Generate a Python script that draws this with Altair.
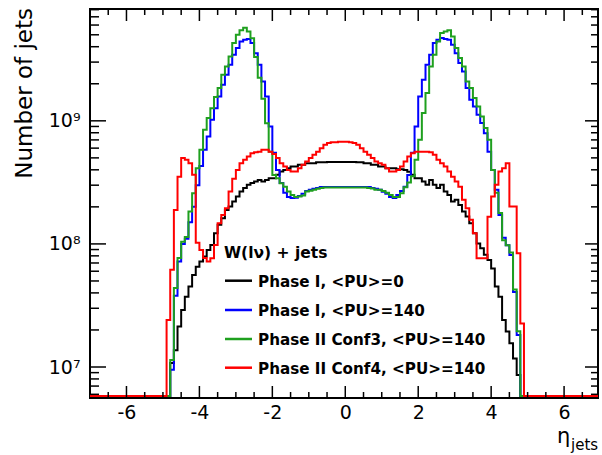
import altair as alt
import pandas as pd

# Jet pseudorapidity spectra for W(lnu)+jets, 0.1-wide bins from eta = -5.0 to 5.0.
# Counts are in millions of jets; 0 marks an empty bin.
BIN_LO = -5.0
BIN_W = 0.1

phase1_pu0 = [
    0, 0, 10.8, 13.7, 21.3, 29.0, 37.3, 45.0, 56.0, 65.3,
    71.8, 78.9, 89.3, 98.2, 122, 143, 162, 189, 201, 221,
    243, 266, 284, 302, 312, 321, 331, 321, 331, 342,
    342, 364, 387, 398, 412, 425, 425, 439, 439, 453,
    453, 453, 461, 461, 461, 462, 462, 462, 462, 462,
    462, 462, 462, 461, 461, 453, 453, 439, 439, 425,
    425, 412, 412, 412, 405, 405, 398, 385, 364, 342,
    342, 321, 302, 331, 302, 284, 302, 266, 250, 221,
    228, 207, 183, 167, 147, 122, 101, 92.2, 81.5, 74.1,
    63.1, 45.0, 37.3, 24.1, 19.4, 15.6, 11.7, 8.6, 0, 0,
]

phase1_pu140 = [
    0, 0, 9.5, 38, 72, 100, 110, 150, 200, 300,
    430, 581, 745, 1019, 1268, 1578, 1963, 2366, 2851, 3443,
    3899, 4416, 4560, 4624, 4285, 3548, 2851, 2089, 1578, 899,
    550, 398, 313, 260, 241, 236, 237, 245, 255, 269,
    275, 280, 285, 290, 290, 290, 290, 290, 290, 290,
    290, 290, 290, 290, 290, 290, 290, 285, 280, 275,
    265, 255, 241, 236, 250, 269, 292, 363, 550, 899,
    1578, 2153, 2851, 3443, 4285, 4560, 4699, 4620, 4560, 4150,
    3548, 2944, 2512, 1845, 1483, 1306, 1119, 958, 794, 562,
    398, 275, 172, 112, 97.7, 81.3, 40.7, 18.2, 0, 0,
]

phase2_conf3 = [
    0, 0, 11.4, 43.9, 76.9, 104, 114, 183, 258, 412,
    581, 845, 1052, 1268, 1560, 1845, 2366, 2761, 3334, 4285,
    5000, 5433, 5702, 5321, 4677, 3300, 2239, 1514, 955, 562,
    363, 342, 311, 292, 266, 250, 240, 243, 247, 266,
    270, 275, 280, 284, 287, 287, 287, 287, 287, 287,
    287, 287, 287, 287, 287, 287, 284, 282, 275, 275,
    269, 260, 250, 240, 240, 258, 289, 316, 355, 482,
    702, 1156, 1679, 2761, 3443, 4416, 5164, 5321, 5445, 4842,
    3899, 3236, 2761, 2089, 1845, 1531, 1306, 1084, 873, 702,
    398, 260, 178, 107, 97.7, 85.1, 42.7, 19.5, 0, 0,
]

phase2_conf4 = [
    0, 24.1, 61.7, 189, 352, 498, 482, 453, 364, 102,
    89.3, 76.9, 71.8, 76.6, 98.2, 147, 172, 195, 266, 339,
    398, 453, 482, 513, 546, 555, 562, 581, 581, 562,
    537, 498, 453, 425, 398, 387, 387, 412, 439, 467,
    498, 530, 562, 600, 638, 659, 671, 671, 676, 676,
    676, 671, 659, 638, 600, 562, 530, 498, 467, 452,
    439, 412, 387, 387, 398, 425, 467, 513, 546, 562,
    562, 562, 562, 555, 530, 482, 453, 425, 387, 352,
    321, 292, 228, 195, 157, 122, 76.6, 76.6, 76.6, 166,
    243, 302, 387, 412, 453, 201, 201, 84, 22.6, 0,
]

series_names = [
    "Phase I, <PU>=0",
    "Phase I, <PU>=140",
    "Phase II Conf3, <PU>=140",
    "Phase II Conf4, <PU>=140",
]
series_counts = [phase1_pu0, phase1_pu140, phase2_conf3, phase2_conf4]
series_colors = ["#000000", "#0000ff", "#1fa01f", "#ff0000"]

process_label = "W(l\u03bd) + jets"

# axis ranges and tick positions
ETA_MIN, ETA_MAX = -7.0, 6.93
JETS_MIN, JETS_MAX = 5.6e6, 8.1e9
JETS_FLOOR = 5.8e6  # empty bins are drawn just above the lower frame edge
x_major = [-6, -4, -2, 0, 2, 4, 6]
x_minor = [-6.5, -5.5, -5, -4.5, -3.5, -3, -2.5, -1.5, -1, -0.5,
           0.5, 1, 1.5, 2.5, 3, 3.5, 4.5, 5, 5.5, 6.5]
y_major = [1e7, 1e8, 1e9]
y_minor = [6e6, 7e6, 8e6, 9e6,
           2e7, 3e7, 4e7, 5e7, 6e7, 7e7, 8e7, 9e7,
           2e8, 3e8, 4e8, 5e8, 6e8, 7e8, 8e8, 9e8,
           2e9, 3e9, 4e9, 5e9, 6e9, 7e9, 8e9]

PLOT_W, PLOT_H = 508, 389
FONT = "DejaVu Sans"

# step-histogram vertices: each bin starts at its left edge; empty bins sit on the floor
rows = []
for name, counts in zip(series_names, series_counts):
    pts = [(ETA_MIN, 0.0)]
    pts += [(round(BIN_LO + i * BIN_W, 2), c) for i, c in enumerate(counts)]
    pts += [(round(BIN_LO + len(counts) * BIN_W, 2), 0.0), (7.0, 0.0)]
    for eta, c in pts:
        rows.append({"series": name, "eta": eta, "jets": max(c * 1e6, JETS_FLOOR)})
hist = pd.DataFrame(rows)

x_scale = alt.Scale(domain=[ETA_MIN, ETA_MAX], nice=False, zero=False)
y_scale = alt.Scale(type="log", domain=[JETS_MIN, JETS_MAX], nice=False)

x_axis = alt.Axis(
    values=x_major, ticks=False, domain=False, grid=False, title=None,
    labelExpr="datum.value < 0 ? '-' + format(-datum.value, 'd') : format(datum.value, 'd')",
    labelFont=FONT, labelFontSize=19, labelColor="black", labelPadding=5,
    labelFlush=False, labelOverlap=False,
)
y_axis = alt.Axis(
    values=y_major, ticks=False, domain=False, grid=False, title=None,
    labelExpr="datum.value >= 9e8 ? '10\u2079' : datum.value >= 9e7 ? '10\u2078' : '10\u2077'",
    labelFont=FONT, labelFontSize=19, labelColor="black", labelPadding=10,
    labelFlush=False, labelOverlap=False,
)

X = alt.X("eta:Q", scale=x_scale, axis=x_axis)
Y = alt.Y("jets:Q", scale=y_scale, axis=y_axis)

layers = []
for name, color in zip(series_names, series_colors):
    layers.append(
        alt.Chart(hist)
        .transform_filter(alt.datum.series == name)
        .mark_line(interpolate="step-after", color=color, strokeWidth=2, clip=True)
        .encode(x=X, y=Y)
    )


def x_ticks(values, length):
    d = pd.DataFrame({"eta": values})
    base = alt.Chart(d).mark_rule(color="black", strokeWidth=1.5)
    return [
        base.encode(x=X, y=alt.value(PLOT_H), y2=alt.value(PLOT_H - length)),
        base.encode(x=X, y=alt.value(0), y2=alt.value(length)),
    ]


def y_ticks(values, left_len, right_len):
    d = pd.DataFrame({"jets": values})
    base = alt.Chart(d).mark_rule(color="black", strokeWidth=1.5)
    return [
        base.encode(y=Y, x=alt.value(0), x2=alt.value(left_len)),
        base.encode(y=Y, x=alt.value(PLOT_W), x2=alt.value(PLOT_W - right_len)),
    ]


layers += x_ticks(x_major, 12) + x_ticks(x_minor, 6)
layers += y_ticks(y_major, 16, 13) + y_ticks(y_minor, 9, 7)


def label(text, x, y, size, weight="normal", align="left", angle=0):
    return (
        alt.Chart(pd.DataFrame({"t": [text]}))
        .mark_text(font=FONT, fontSize=size, fontWeight=weight, align=align,
                   baseline="alphabetic", angle=angle, color="black")
        .encode(text="t:N", x=alt.value(x), y=alt.value(y))
    )


# axis titles
layers.append(label("Number of jets", -58, -1, 23, align="right", angle=270))
layers.append(label("\u03b7", 467, 434, 21))
layers.append(label("jets", 481, 441, 15))

# legend
layers.append(label(process_label, 134, 249, 15.5, weight="bold"))
legend_rows = [271.7, 301, 330, 358.7]
for name, color, ly in zip(series_names, series_colors, legend_rows):
    layers.append(
        alt.Chart(pd.DataFrame({"t": [name]}))
        .mark_rule(color=color, strokeWidth=2.5)
        .encode(x=alt.value(135), x2=alt.value(162), y=alt.value(ly))
    )
    layers.append(label(name, 168, ly + 6, 15.2, weight="bold"))

chart = (
    alt.layer(*layers)
    .properties(
        width=PLOT_W,
        height=PLOT_H,
        autosize=alt.AutoSizeParams(type="none"),
        padding={"left": 90, "top": 9, "right": 4, "bottom": 57},
        background="white",
    )
    .configure_view(stroke="black", strokeWidth=2)
)

chart.save("out.html", embed_options={"renderer": "svg", "actions": False})
